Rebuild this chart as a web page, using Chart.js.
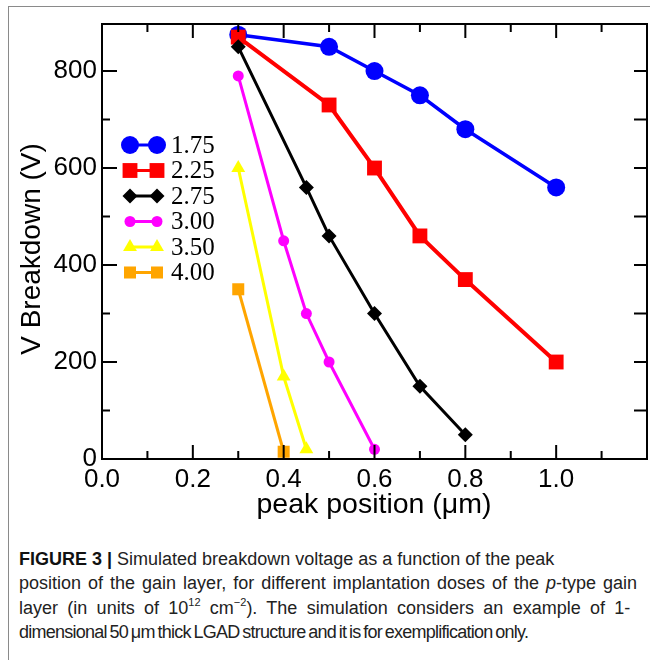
<!DOCTYPE html>
<html>
<head>
<meta charset="utf-8">
<script src="https://cdn.jsdelivr.net/npm/chart.js@4.4.1/dist/chart.umd.min.js"></script>
<style>
  html, body { margin: 0; padding: 0; background: #fff; }
  #wrap { position: relative; width: 650px; height: 660px; overflow: hidden; }
  #frame { position: absolute; left: 8px; top: 6px; width: 700px; height: 700px;
           border-left: 1.5px solid #8a8a8a; border-top: 1.5px solid #8a8a8a; }
  #plot { position: absolute; left: 0; top: 0; }
  #caption { position: absolute; left: 19px; top: 547px; width: 630px;
             font-family: "Liberation Sans", Arial, sans-serif; font-size: 18px;
             line-height: 24.3px; color: #222; white-space: nowrap; }
  #caption b { font-weight: bold; color: #111; }
  #caption sup { font-size: 11px; line-height: 0; vertical-align: 8px; }
</style>
</head>
<body>
<div id="wrap">
  <div id="frame"></div>
  <canvas id="plot" width="650" height="530"></canvas>
  <div id="caption">
    <div><b>FIGURE 3 |</b> Simulated breakdown voltage as a function of the peak</div>
    <div style="word-spacing:2px">position of the gain layer, for different implantation doses of the <i>p</i>-type gain</div>
    <div style="word-spacing:4.3px">layer (in units of 10<sup>12</sup> cm<sup>−2</sup>). The simulation considers an example of 1-</div>
    <div style="letter-spacing:-0.75px; word-spacing:-1.5px">dimensional 50 μm thick LGAD structure and it is for exemplification only.</div>
  </div>
</div>
<script>
'use strict';

/* Implantointiannokset (10^12 cm^-2) */
const doseLabels = ['1.75', '2.25', '2.75', '3.00', '3.50', '4.00'];

/* Huippukohta (µm) ja läpilyöntijännite (V) annoksittain */
const peak175 = [0.3, 0.5, 0.6, 0.7, 0.8, 1.0];
const vbd175  = [875, 850, 800, 750, 680, 560];
const peak225 = [0.3, 0.5, 0.6, 0.7, 0.8, 1.0];
const vbd225  = [870, 730, 600, 460, 370, 200];
const peak275 = [0.3, 0.45, 0.5, 0.6, 0.7, 0.8];
const vbd275  = [850, 560, 460, 300, 150, 50];
const peak300 = [0.3, 0.4, 0.45, 0.5, 0.6];
const vbd300  = [790, 450, 300, 200, 20];
const peak350 = [0.3, 0.4, 0.45];
const vbd350  = [600, 170, 20];
const peak400 = [0.3, 0.4];
const vbd400  = [350, 15];

/* Akselien merkityt arvot */
const xTickValues = [0, 0.2, 0.4, 0.6, 0.8, 1.0];
const yTickValues = [0, 200, 400, 600, 800];

const X_MIN = 0, X_MAX = 1.2, Y_MIN = 0, Y_MAX = 897;

const pairs = (xs, ys) => xs.map((x, i) => ({ x, y: ys[i] }));

/* Sarjojen tyylit */
const styles = [
  { color: '#0000ff', style: 'circle',   r: 9,    lw: 3.5 },
  { color: '#ff0000', style: 'rect',     r: 10.5, lw: 4 },
  { color: '#000000', style: 'rectRot',  r: 7.5,  lw: 3 },
  { color: '#ff00ff', style: 'circle',   r: 5.5,  lw: 3 },
  { color: '#ffff00', style: 'triangle', r: 8,    lw: 3 },
  { color: '#ffa500', style: 'rect',     r: 8.5,  lw: 3 },
];

const series = [
  pairs(peak175, vbd175),
  pairs(peak225, vbd225),
  pairs(peak275, vbd275),
  pairs(peak300, vbd300),
  pairs(peak350, vbd350),
  pairs(peak400, vbd400),
];

const datasets = series.map((data, i) => ({
  label: doseLabels[i],
  data,
  borderColor: styles[i].color,
  backgroundColor: styles[i].color,
  borderWidth: styles[i].lw,
  pointStyle: styles[i].style,
  pointRadius: styles[i].r,
  pointBorderWidth: 0,
  pointBackgroundColor: styles[i].color,
  tension: 0,
  clip: false,
  order: series.length - 1 - i,
}));

/* Kehys, sisäänpäin osoittavat jakoviivat, akselien otsikot ja selite */
const framePlugin = {
  id: 'frame',
  afterDatasetsDraw(chart) {
    const { ctx, chartArea: a, scales } = chart;
    const sx = scales.x, sy = scales.y;
    ctx.save();
    ctx.strokeStyle = '#000';
    ctx.lineWidth = 2;
    ctx.strokeRect(a.left, a.top, a.right - a.left, a.bottom - a.top);

    ctx.beginPath();
    for (let k = 1; k < 12; k++) {
      const v = k / 10;
      const px = sx.getPixelForValue(v);
      const len = k % 2 === 0 ? 14 : 8;
      ctx.moveTo(px, a.bottom); ctx.lineTo(px, a.bottom - len);
      ctx.moveTo(px, a.top);    ctx.lineTo(px, a.top + len);
    }
    for (let v = 100; v < Y_MAX; v += 100) {
      const py = sy.getPixelForValue(v);
      const len = v % 200 === 0 ? 15 : 8;
      ctx.moveTo(a.left, py);  ctx.lineTo(a.left + len, py);
      ctx.moveTo(a.right, py); ctx.lineTo(a.right - 13, py);
    }
    ctx.stroke();

    /* Akselien otsikot */
    ctx.fillStyle = '#000';
    ctx.textAlign = 'center';
    ctx.textBaseline = 'middle';
    ctx.font = '28.5px "Liberation Sans", Arial, sans-serif';
    ctx.fillText('peak position (\u03bcm)', 374, 505);
    ctx.save();
    ctx.translate(32, 249);
    ctx.rotate(-Math.PI / 2);
    ctx.font = '28px "Liberation Sans", Arial, sans-serif';
    ctx.fillText('V Breakdown (V)', 0, 0);
    ctx.restore();

    /* Selite: kaksi merkkiä viivalla + annos */
    const x1 = 130, x2 = 157, y0 = 145, step = 25.5;
    ctx.textAlign = 'left';
    ctx.font = '25px "Liberation Serif", "Times New Roman", serif';
    chart.data.datasets.forEach((ds, i) => {
      const y = y0 + i * step;
      ctx.strokeStyle = ds.borderColor;
      ctx.lineWidth = 3;
      ctx.beginPath();
      ctx.moveTo(x1, y); ctx.lineTo(x2, y);
      ctx.stroke();
      ctx.fillStyle = ds.borderColor;
      const opts = { pointStyle: ds.pointStyle, radius: ds.pointRadius, rotation: 0, borderWidth: 0 };
      Chart.helpers.drawPoint(ctx, opts, x1, y);
      Chart.helpers.drawPoint(ctx, opts, x2, y);
      ctx.fillStyle = '#000';
      ctx.fillText(ds.label, 171, y + 1);
    });
    ctx.restore();
  },
};

new Chart(document.getElementById('plot'), {
  type: 'line',
  data: { datasets },
  options: {
    responsive: false,
    animation: false,
    layout: { autoPadding: false, padding: { left: 0, top: 24, right: 3, bottom: 0 } },
    plugins: { legend: { display: false }, tooltip: { enabled: false } },
    scales: {
      x: {
        type: 'linear',
        min: X_MIN, max: X_MAX,
        afterBuildTicks: s => { s.ticks = xTickValues.map(value => ({ value })); },
        afterFit: s => { s.height = 71; s.paddingLeft = 0; s.paddingRight = 0; },
        grid: { display: false, drawTicks: false },
        border: { display: false },
        ticks: {
          padding: 5,
          color: '#000',
          maxRotation: 0,
          autoSkip: false,
          font: { family: '"Liberation Sans", Arial, sans-serif', size: 26 },
          callback: v => v.toFixed(1),
        },
      },
      y: {
        type: 'linear',
        min: Y_MIN, max: Y_MAX,
        afterBuildTicks: s => { s.ticks = yTickValues.map(value => ({ value })); },
        afterFit: s => { s.width = 102; s.paddingTop = 0; s.paddingBottom = 0; },
        grid: { display: false, drawTicks: false },
        border: { display: false },
        ticks: {
          padding: 5,
          color: '#000',
          autoSkip: false,
          font: { family: '"Liberation Sans", Arial, sans-serif', size: 26 },
          callback: v => String(v),
        },
      },
    },
  },
  plugins: [framePlugin],
});
</script>
</body>
</html>
